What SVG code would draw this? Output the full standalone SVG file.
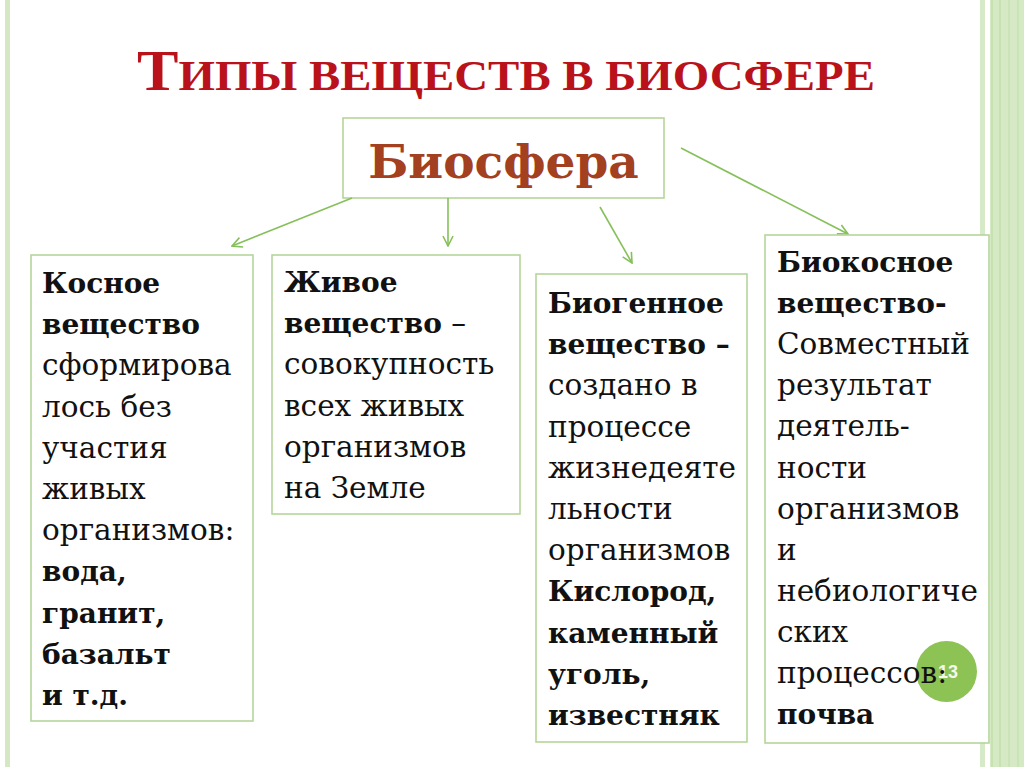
<svg xmlns="http://www.w3.org/2000/svg" width="1024" height="767" viewBox="0 0 1024 767">
<defs>
<style>
.box{fill:#ffffff;stroke:#b6d59c;stroke-width:1.6}
.t{font-family:"DejaVu Serif","Liberation Serif",serif;font-size:29.5px;fill:#111}
.b{font-weight:bold;font-size:28px}
.conn line{stroke:#86c05a;stroke-width:1.6;fill:none}
</style>
<marker id="ah" viewBox="0 0 12 12" refX="11" refY="6" markerWidth="12" markerHeight="12" markerUnits="userSpaceOnUse" orient="auto">
<path d="M1,1 L11,6 L1,11" fill="none" stroke="#86c05a" stroke-width="1.6"/>
</marker>
</defs>
<rect x="0" y="0" width="1024" height="767" fill="#ffffff"/>
<g id="page-border">
<rect x="5" y="0" width="5" height="767" fill="#d3e8c3"/>
<rect x="980" y="0" width="5" height="767" fill="#d6eac7"/>
<rect x="990" y="0" width="34" height="767" fill="#d4e9c4"/>
<line x1="992" y1="0" x2="992" y2="767" stroke="#b9d9a2" stroke-width="1"/>
<line x1="1000" y1="0" x2="1000" y2="767" stroke="#b9d9a2" stroke-width="1"/>
<line x1="1009" y1="0" x2="1009" y2="767" stroke="#c2ddae" stroke-width="1"/>
<line x1="1018" y1="0" x2="1018" y2="767" stroke="#c2ddae" stroke-width="1"/>
</g>
<g id="title">
<text x="137" y="90" textLength="738" lengthAdjust="spacingAndGlyphs" font-family="Liberation Serif, serif" font-weight="bold" fill="#b9121b"><tspan font-size="57">Т</tspan><tspan font-size="43">ИПЫ ВЕЩЕСТВ В БИОСФЕРЕ</tspan></text>
</g>
<g id="biosphere">
<rect class="box" x="343" y="118" width="321" height="80"/>
<text x="503.5" y="178" text-anchor="middle" font-family="DejaVu Serif, serif" font-weight="bold" font-size="47" fill="#a3401f">Биосфера</text>
</g>
<g class="conn" id="connectors">
<line x1="352" y1="198" x2="232" y2="246" marker-end="url(#ah)"/>
<line x1="448" y1="198" x2="448" y2="246" marker-end="url(#ah)"/>
<line x1="600" y1="207" x2="632" y2="263" marker-end="url(#ah)"/>
<line x1="681" y1="148" x2="848" y2="234" marker-end="url(#ah)"/>
</g>
<g id="kosnoe">
<rect class="box" x="31" y="255" width="222" height="466"/>
<text class="t" x="42" y="293">
<tspan class="b" x="42" y="293">Косное</tspan>
<tspan class="b" x="42" y="334.2">вещество</tspan>
<tspan x="42" y="375.4">сформирова</tspan>
<tspan x="42" y="416.6">лось без</tspan>
<tspan x="42" y="457.8">участия</tspan>
<tspan x="42" y="499">живых</tspan>
<tspan x="42" y="540.2">организмов:</tspan>
<tspan class="b" x="42" y="581.4">вода,</tspan>
<tspan class="b" x="42" y="622.6">гранит,</tspan>
<tspan class="b" x="42" y="663.8">базальт</tspan>
<tspan class="b" x="42" y="705">и т.д.</tspan>
</text>
</g>
<g id="zhivoe">
<rect class="box" x="272" y="255" width="248" height="259"/>
<text class="t" x="284" y="292">
<tspan class="b" x="284" y="292">Живое</tspan>
<tspan x="284" y="333.2"><tspan class="b">вещество</tspan> –</tspan>
<tspan x="284" y="374.4">совокупность</tspan>
<tspan x="284" y="415.6">всех живых</tspan>
<tspan x="284" y="456.8">организмов</tspan>
<tspan x="284" y="498">на Земле</tspan>
</text>
</g>
<g id="biogennoe">
<rect class="box" x="536" y="274" width="211" height="468"/>
<text class="t" x="548" y="313">
<tspan class="b" x="548" y="313">Биогенное</tspan>
<tspan class="b" x="548" y="354.2">вещество –</tspan>
<tspan x="548" y="395.4">создано в</tspan>
<tspan x="548" y="436.6">процессе</tspan>
<tspan x="548" y="477.8">жизнедеяте</tspan>
<tspan x="548" y="519">льности</tspan>
<tspan x="548" y="560.2">организмов</tspan>
<tspan class="b" x="548" y="601.4">Кислород,</tspan>
<tspan class="b" x="548" y="642.6">каменный</tspan>
<tspan class="b" x="548" y="683.8">уголь,</tspan>
<tspan class="b" x="548" y="725">известняк</tspan>
</text>
</g>
<g id="biokosnoe">
<rect class="box" x="765" y="235" width="224" height="508"/>
<circle cx="946.5" cy="671.5" r="30.5" fill="#8dc254"/>
<text x="948" y="678" text-anchor="middle" font-family="Liberation Sans, sans-serif" font-weight="bold" font-size="18" fill="#f4f9ee">13</text>
<text class="t" x="777" y="272">
<tspan class="b" x="777" y="272">Биокосное</tspan>
<tspan class="b" x="777" y="313.1">вещество-</tspan>
<tspan x="777" y="354.2">Совместный</tspan>
<tspan x="777" y="395.3">результат</tspan>
<tspan x="777" y="436.4">деятель-</tspan>
<tspan x="777" y="477.5">ности</tspan>
<tspan x="777" y="518.6">организмов</tspan>
<tspan x="777" y="559.7">и</tspan>
<tspan x="777" y="600.8">небиологиче</tspan>
<tspan x="777" y="641.9">ских</tspan>
<tspan x="777" y="683">процессов:</tspan>
<tspan class="b" x="777" y="724.1">почва</tspan>
</text>
</g>
</svg>
